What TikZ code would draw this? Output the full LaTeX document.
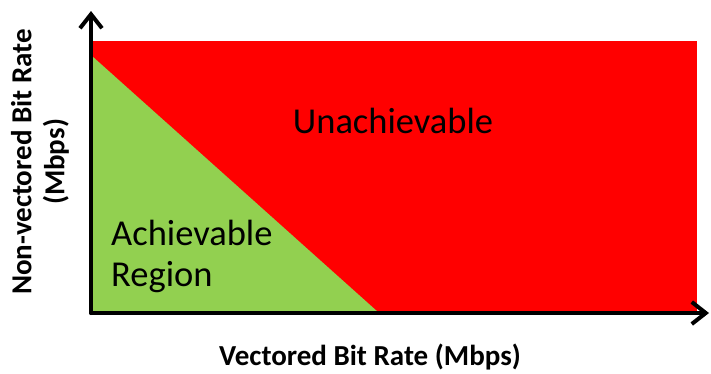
\documentclass[tikz,border=0pt]{standalone}
\usepackage{fontspec}
\setmainfont{Carlito}
\usetikzlibrary{arrows.meta}
\definecolor{regred}{HTML}{FF0000}
\definecolor{reggreen}{HTML}{92D050}
\tikzset{
  axis/.style={line width=4pt, line cap=round, -{Straight Barb[length=14pt,width=22pt,line width=4pt]}},
  bigtext/.style={font=\fontsize{36.5}{41}\selectfont, text=black, inner sep=0pt},
  axlabel/.style={font=\bfseries\fontsize{29}{33}\selectfont, text=black, inner sep=0pt, align=center}
}
\begin{document}
\begin{tikzpicture}[x=1pt,y=-1pt]
\useasboundingbox (0,0) rectangle (711,373);
\fill[regred] (92,41) rectangle (697,312);
\fill[reggreen] (92,56) -- (92,312) -- (378,312) -- cycle;
\coordinate (origin) at (91,313);
\coordinate (xend) at (709,313);
\coordinate (yend) at (91,11);
\draw[axis] (origin) -- (xend);
\draw[axis] (origin) -- (yend);
\node[bigtext] (unach) at (393,121) {Unachievable};
\node[bigtext, anchor=base west, align=left] (ach) at (111,286) {Achievable\\Region};
\node[axlabel] (xlab) at (370,357.5) {Vectored Bit Rate (Mbps)};
\node[axlabel, rotate=90] (ylab) at (40,162) {Non-vectored Bit Rate\\(Mbps)};
\end{tikzpicture}
\end{document}
